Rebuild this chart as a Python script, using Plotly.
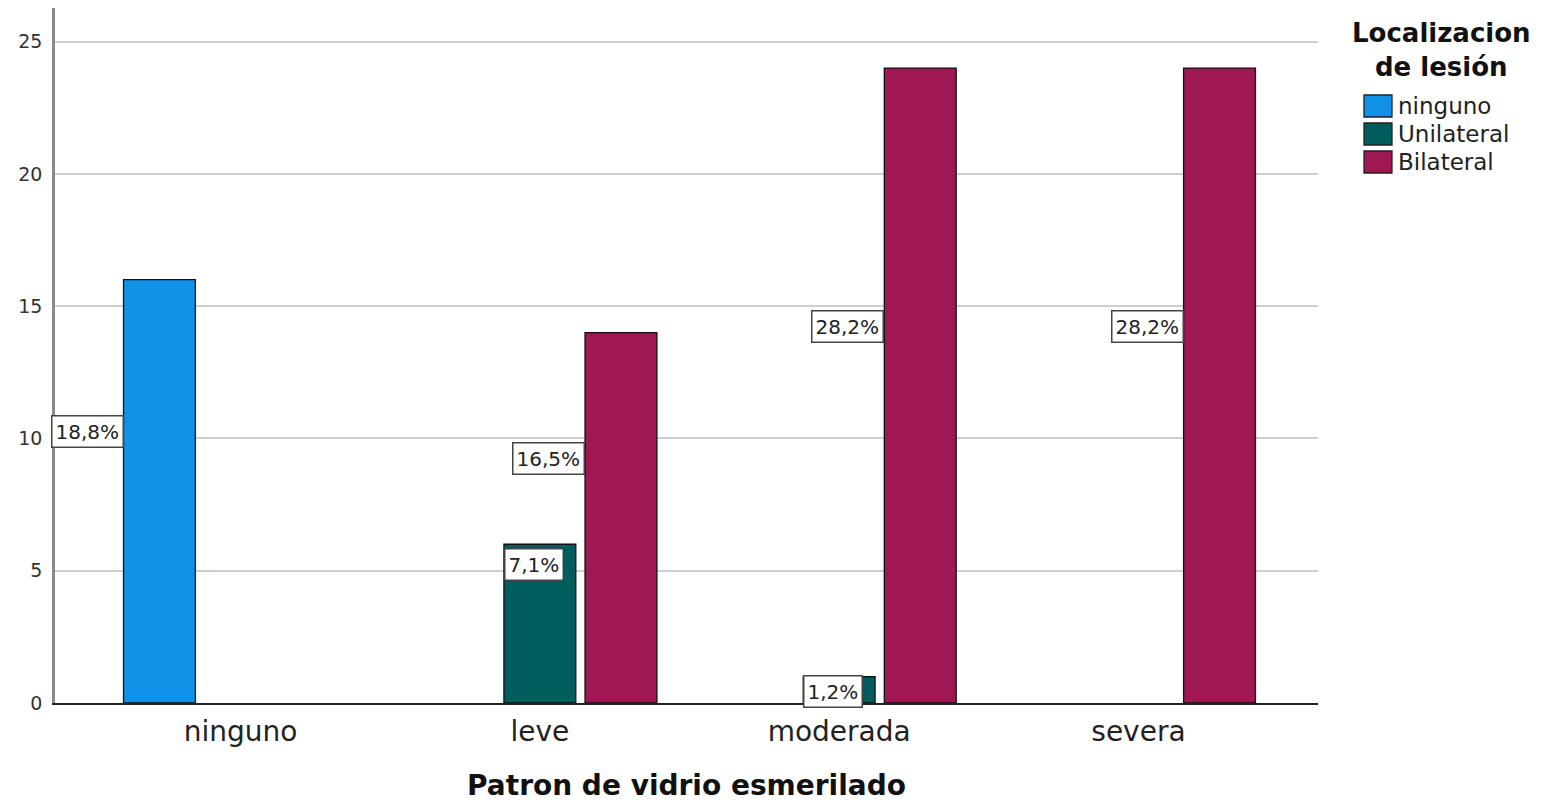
import plotly.graph_objects as go

categories = ["ninguno", "leve", "moderada", "severa"]
series_names = ["ninguno", "Unilateral", "Bilateral"]
ninguno_vals = [16, None, None, None]
unilateral_vals = [None, 6, 1, None]
bilateral_vals = [None, 14, 24, 24]
total = 85
legend_title = "Localizacion<br>de lesión"
x_title = "Patron de vidrio esmerilado"

colors = ["#1192e8", "#005d5d", "#9f1853"]
label_anchor = ["right", "left", "right"]
FONT = "DejaVu Sans, Verdana, sans-serif"

series_vals = [ninguno_vals, unilateral_vals, bilateral_vals]

bargap = 0.187
bargroupgap = 0.114
nser = len(series_names)
slot = (1 - bargap) / nser

fig = go.Figure()
for k, (name, vals, col) in enumerate(zip(series_names, series_vals, colors)):
    fig.add_trace(go.Bar(
        x=categories, y=vals, name=name, showlegend=False,
        marker=dict(color=col, line=dict(color="#111", width=1.3)),
    ))

annotations = []
shapes = []
for k, vals in enumerate(series_vals):
    for i, v in enumerate(vals):
        if v is None:
            continue
        left_edge = i - (1 - bargap) / 2 + k * slot + slot * bargroupgap / 2
        ly = min(0.5 * v + 2.25, v - 0.55)
        pct = f"{100 * v / total:.1f}%".replace(".", ",")
        annotations.append(dict(
            x=left_edge, y=ly, xref="x", yref="y", text=pct, showarrow=False,
            xanchor=label_anchor[k], yanchor="middle",
            font=dict(family=FONT, size=20, color="#222"),
            bgcolor="white", bordercolor="#444", borderwidth=1.5, borderpad=3,
        ))

# manual legend (title + swatches + labels) in pixel-like paper coords
W, H = 1556, 802
L, R, T, B = 55, 238, 8, 99
pw, ph = W - L - R, H - T - B
def px(xp):
    return (xp - L) / pw
def py(yp):
    return 1 - (yp - T) / ph

annotations.append(dict(
    x=px(1441), y=py(50), xref="paper", yref="paper", text="<b>" + legend_title + "</b>",
    showarrow=False, xanchor="center", yanchor="middle", align="center",
    font=dict(family=FONT, size=26, color="#111"),
))
for k, (name, col) in enumerate(zip(series_names, colors)):
    yc = 106 + 28 * k
    shapes.append(dict(
        type="rect", xref="paper", yref="paper",
        x0=px(1364), x1=px(1392), y0=py(yc + 11), y1=py(yc - 11),
        fillcolor=col, line=dict(color="#222", width=1.3),
    ))
    annotations.append(dict(
        x=px(1396), y=py(yc), xref="paper", yref="paper", text=name,
        showarrow=False, xanchor="left", yanchor="middle",
        font=dict(family=FONT, size=23, color="#222"),
    ))

fig.update_layout(
    width=W, height=H,
    margin=dict(l=L, r=R, t=T, b=B, autoexpand=False),
    paper_bgcolor="white", plot_bgcolor="white",
    barmode="group", bargap=bargap, bargroupgap=bargroupgap,
    font=dict(family=FONT, color="#222"),
    annotations=annotations, shapes=shapes,
    showlegend=False,
    xaxis=dict(
        type="category", automargin=False,
        range=[-0.62, 3.6],
        tickfont=dict(family=FONT, size=28, color="#222"),
        showline=True, linecolor="#222", linewidth=1.5,
        ticks="", showgrid=False, ticklabelstandoff=3,
        title=dict(text="<b>" + x_title + "</b>",
                   font=dict(family=FONT, size=28, color="#111"), standoff=28),
    ),
    yaxis=dict(
        automargin=False,
        range=[0, 26.27], tickvals=[0, 5, 10, 15, 20, 25],
        tickfont=dict(family=FONT, size=19, color="#333"),
        showline=True, linecolor="#8a8a8a", linewidth=2.5,
        showgrid=True, gridcolor="#cfcfcf", gridwidth=1.5,
        zeroline=False, ticks="", ticklabelstandoff=6,
    ),
)

fig.write_html("out.html")
